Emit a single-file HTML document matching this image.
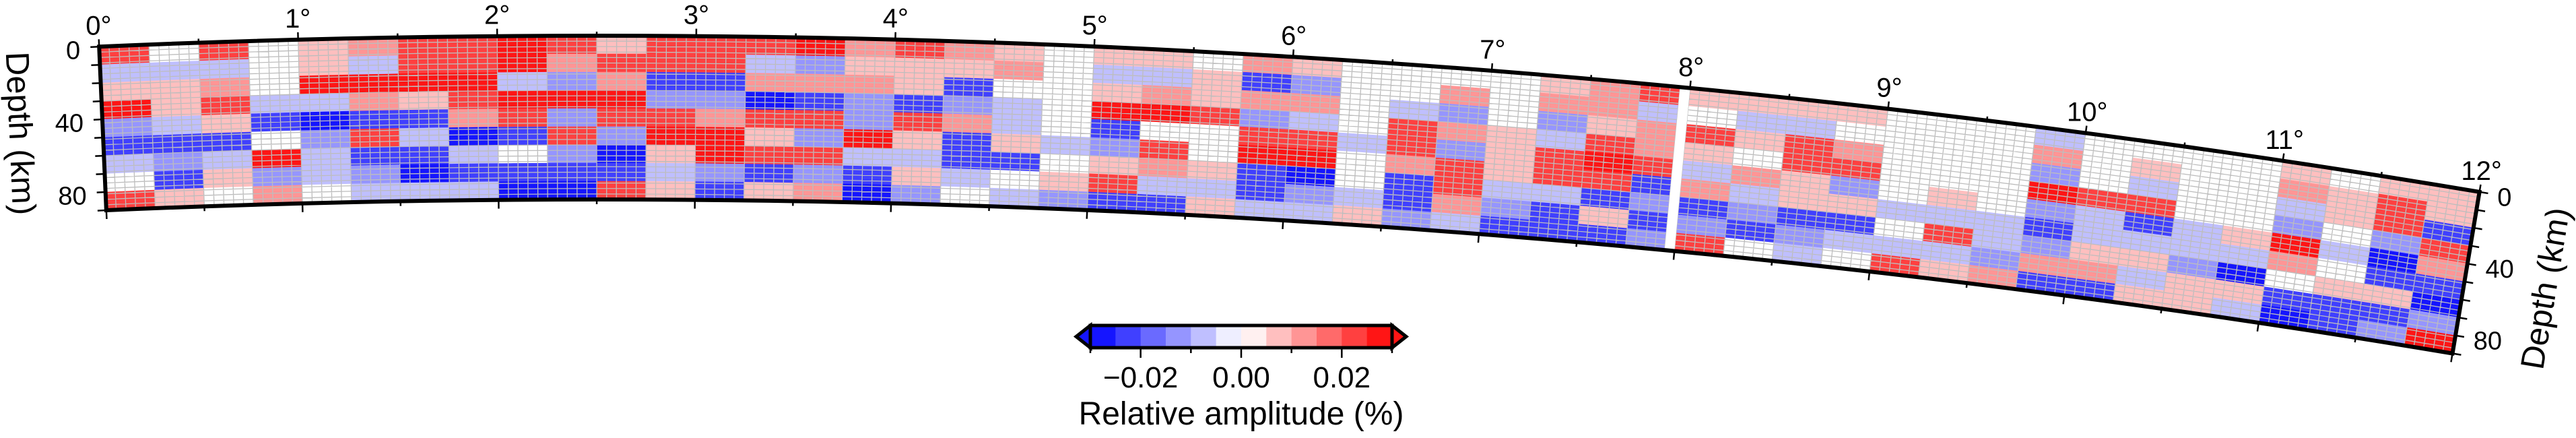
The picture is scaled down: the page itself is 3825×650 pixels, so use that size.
<!DOCTYPE html>
<html><head><meta charset="utf-8">
<style>
html,body{margin:0;padding:0;background:#fff;}
svg{display:block;font-family:"Liberation Sans",Arial,sans-serif;}
</style></head>
<body>
<svg id="chart" xmlns="http://www.w3.org/2000/svg" width="3825" height="650" viewBox="0 0 3825 650">
<g id="cells"></g>
<g id="grid"></g>
<g id="frame"></g>
<g id="axes"></g>
<text x="0" y="0" font-size="49" text-anchor="middle" dominant-baseline="central" transform="translate(30,198) rotate(87.5)">Depth (km)</text>
<text x="0" y="0" font-size="49" text-anchor="middle" dominant-baseline="central" transform="translate(3780,428) rotate(-80.5)">Depth (km)</text>
<g id="colorbar"></g>
<text x="1843" y="630" font-size="48" text-anchor="middle">Relative amplitude (%)</text>
</svg>
<script>
// ---- data: amplitude level per 0.25° column, one array per 10 km depth band ----
const lonStart = 0, lonStep = 0.25;
const depthBands = [0,10,20,30,40,50,60,70,80,90];
const levelAmp = [-0.028,-0.022,-0.014,-0.007,0,0.007,0.014,0.022,0.028]; // level -4..4 -> %
const band0_10  = [3,0,3,0,1,2,3,3,4,3,1,3,3,3,4, 2,3,2,1,0,1,1,0,2,1,0,0,0,0,1,2,3, 1,1,1,1,0,0,0,-1,0,0,0,0,1,0,1,1];
const band10_20 = [-1,-1,-1,0,1,-1,3,3,4,2,3,3,3,-1,-2, 1,1,1,2,0,-1,-1,1,-3,-2,0,0,2,0,2,2,-1, 0,-1,-1,0,0,0,0,2,0,1,0,0,2,1,3,1];
const band20_30 = [1,1,2,0,4,4,4,4,-1,-2,2,-3,-3,2,2, 2,1,-3,0,0,1,2,1,2,2,0,-1,-2,0,-2,1,2, 3,1,3,2,0,0,0,-2,0,-1,0,0,-1,1,3,-3];
const band30_40 = [4,1,3,-1,-1,2,1,3,4,4,4,-2,-2,-4,-3, -2,-3,-2,-1,0,4,4,3,-2,-1,0,3,2,1,-1,3,2, 1,0,3,3,0,0,0,4,3,3,0,0,-2,0,-2,3];
const band40_50 = [-2,-1,1,-3,-4,-3,-3,2,3,-2,3,3,2,3,3, -2,3,2,-1,0,-3,0,0,3,3,-1,3,-2,1,3,4,3, -1,2,1,-2,0,1,0,-2,-1,-3,-1,1,4,-1,-4,2];
const band50_60 = [-3,-3,-3,0,-2,3,-1,-4,-3,3,-2,4,4,1,-2, 4,1,-3,1,-1,-2,3,0,4,4,0,2,3,1,3,3,-3, 2,-1,1,1,-1,-1,-1,-3,-1,-1,-1,-1,2,0,-3,-3];
const band60_70 = [-1,-2,-1,4,-1,-3,-3,-1,0,-2,-4,1,4,3,3, -1,-1,-3,-3,0,1,2,1,-3,-4,0,-3,3,-1,-1,-3,-2, -3,-2,-3,-3,0,3,-1,-2,1,1,-2,-4,0,1,1,-4];
const band70_80 = [0,-3,1,-2,-1,-2,-4,-3,-3,-3,-3,-1,-2,-3,-2, -3,1,-1,0,1,3,-1,-1,-3,-2,-1,-3,2,-2,-3,1,-3, -2,-3,-2,-1,-1,-1,-2,2,2,-1,1,1,-3,-3,-3,-2];
const band80_90 = [3,1,0,2,0,-1,-1,-1,-4,-4,3,1,-3,1,2, -4,-2,0,-1,-2,-3,-3,1,-1,-1,1,-2,-1,-3,-3,-3,-2, 3,0,-1,0,3,1,2,-3,-3,1,1,-1,-4,-3,-2,4];
const bands = [band0_10,band10_20,band20_30,band30_40,band40_50,band50_60,band60_70,band70_80,band80_90];
const noDataLon = [7.95, 8.0];
const lonTicks = [0,1,2,3,4,5,6,7,8,9,10,11,12];
const depthTickLabels = [0,40,80];
const cbarTicks = [-0.02, 0.00, 0.02];
const cbarTickLabels = ["\u22120.02","0.00","0.02"];

// ---- projection ----
const NS="http://www.w3.org/2000/svg";
const R0=16938, CX=889, CY=16991, KM=2.7, ROT=2.51, LONMAX=12, DMAX=90;
function P(th,d){const p=(th-ROT)*Math.PI/180, r=R0-d*KM; return [CX+r*Math.sin(p), CY-r*Math.cos(p)];}
function out(th){const p=(th-ROT)*Math.PI/180; return [Math.sin(p),-Math.cos(p)];}
function side(th){const p=(th-ROT)*Math.PI/180; return [Math.cos(p),Math.sin(p)];}
function mk(tag,attrs,parent){const e=document.createElementNS(NS,tag);for(const k in attrs)e.setAttribute(k,attrs[k]);parent.appendChild(e);return e;}
function color(v){
  if(v===0) return "#ffffff";
  let i=Math.floor(v/0.005); i=Math.max(-6,Math.min(5,i));
  const mid=(i+0.5)*0.005, c=Math.round(255*(1-Math.abs(mid)/0.03));
  return mid<0?`rgb(${c},${c},255)`:`rgb(255,${c},${c})`;
}
function amp(lv){const k=Math.max(-4,Math.min(4,Math.round(lv)));return levelAmp[k+4];}
function poly(t0,t1,d0,d1){
  const pts=[],n=4;
  for(let k=0;k<=n;k++)pts.push(P(t0+(t1-t0)*k/n,d0));
  for(let k=n;k>=0;k--)pts.push(P(t0+(t1-t0)*k/n,d1));
  return pts.map(p=>p[0].toFixed(1)+","+p[1].toFixed(1)).join(" ");
}

// ---- cells ----
const gC=document.getElementById("cells");
bands.forEach((row,ri)=>{
  row.forEach((lv,ci)=>{
    const t0=lonStart+ci*lonStep, t1=t0+lonStep;
    const c=color(amp(lv));
    const el=mk("polygon",{points:poly(t0,t1,depthBands[ri],depthBands[ri+1]),fill:c,stroke:c,"stroke-width":"0.6"},gC);
    
    
  });
});

// ---- fine grid overlay ----
const gG=document.getElementById("grid");
let gd="";
for(let k=0;k<=240;k++){const t=k*0.05,a=P(t,0),b=P(t,DMAX);gd+=`M${a[0].toFixed(1)},${a[1].toFixed(1)}L${b[0].toFixed(1)},${b[1].toFixed(1)}`;}
for(let d=0;d<=DMAX;d+=3){const a=P(0,d),b=P(LONMAX,d),r=R0-d*KM;gd+=`M${a[0].toFixed(1)},${a[1].toFixed(1)}A${r},${r} 0 0 1 ${b[0].toFixed(1)},${b[1].toFixed(1)}`;}
const gl=mk("path",{d:gd,fill:"none",stroke:"#bdbdbd","stroke-width":"1.3"},gG);


const gap=mk("polygon",{points:poly(noDataLon[0],noDataLon[1],0,DMAX),fill:"#fff"},gG);



// ---- frame ----
const gF=document.getElementById("frame");
{
  const a=P(0,0),b=P(LONMAX,0),c=P(LONMAX,DMAX),d=P(0,DMAX),r0=R0,r1=R0-DMAX*KM;
  const fr=mk("path",{d:`M${a}A${r0},${r0} 0 0 1 ${b}L${c}A${r1},${r1} 0 0 0 ${d}Z`,fill:"none",stroke:"#000","stroke-width":"6","stroke-linejoin":"miter"},gF);
  
  
}

// ---- axes ----
const gA=document.getElementById("axes");
let td="";
for(let k=0;k<=24;k++){
  const t=k*0.5, maj=(k%2===0), o=out(t);
  const Lt=maj?11:6, Lb=maj?13:7;
  const a=P(t,0), b=P(t,DMAX);
  td+=`M${a[0]},${a[1]}L${a[0]+o[0]*Lt},${a[1]+o[1]*Lt}`;
  td+=`M${b[0]},${b[1]}L${b[0]-o[0]*Lb},${b[1]-o[1]*Lb}`;
}
for(let d=0;d<=DMAX;d+=10){
  const L=13, a=P(0,d), b=P(LONMAX,d), s0=side(0), s1=side(LONMAX);
  td+=`M${a[0]},${a[1]}L${a[0]-s0[0]*L},${a[1]-s0[1]*L}`;
  td+=`M${b[0]},${b[1]}L${b[0]+s1[0]*L},${b[1]+s1[1]*L}`;
}
const tk=mk("path",{d:td,stroke:"#000","stroke-width":"2.5",fill:"none"},gA);


lonTicks.forEach(t=>{
  const a=P(t,0),o=out(t);
  const tx=mk("text",{x:(a[0]+o[0]*18).toFixed(1),y:(a[1]+o[1]*18).toFixed(1),"font-size":"40","text-anchor":"middle"},gA);
  tx.textContent=t+"\u00b0";
  
  
});
depthTickLabels.forEach(d=>{
  const a=P(0,d),s=side(0);
  const l=mk("text",{x:(a[0]-s[0]*28).toFixed(1),y:(a[1]-s[1]*28+5).toFixed(1),"font-size":"38","text-anchor":"end","dominant-baseline":"central"},gA);
  l.textContent=d;
  
  
  const b=P(LONMAX,d),s1=side(LONMAX);
  const r=mk("text",{x:(b[0]+s1[0]*27).toFixed(1),y:(b[1]+s1[1]*27+4).toFixed(1),"font-size":"38","text-anchor":"start","dominant-baseline":"central"},gA);
  r.textContent=d;
  
  
});

// ---- colorbar ----
const gB=document.getElementById("colorbar");
const BX0=1619,BX1=2067,BY0=483,BY1=516,VMIN=-0.03,VMAX=0.03;
function bx(v){return BX0+(v-VMIN)/(VMAX-VMIN)*(BX1-BX0);}
for(let i=-6;i<6;i++){
  const v0=i*0.005,v1=v0+0.005;
  let c=color((i+0.5)*0.005);
  if(i===-1)c="#eeeeff"; if(i===0)c="#fff0f0";
  const s=mk("rect",{x:bx(v0).toFixed(1),y:BY0,width:(bx(v1)-bx(v0)+0.5).toFixed(1),height:BY1-BY0,fill:c},gB);
  
  
}
const tl=mk("polygon",{points:`${BX0},${BY0} ${BX0-21},${(BY0+BY1)/2} ${BX0},${BY1}`,fill:"rgb(21,21,255)",stroke:"#000","stroke-width":"5","stroke-linejoin":"miter"},gB);


const tr=mk("polygon",{points:`${BX1},${BY0} ${BX1+21},${(BY0+BY1)/2} ${BX1},${BY1}`,fill:"rgb(255,21,21)",stroke:"#000","stroke-width":"5","stroke-linejoin":"miter"},gB);


const bf=mk("rect",{x:BX0,y:BY0,width:BX1-BX0,height:BY1-BY0,fill:"none",stroke:"#000","stroke-width":"5"},gB);


let cd="";
for(let k=0;k<=6;k++){const v=VMIN+k*0.01,x=bx(v),maj=(k%2===1);cd+=`M${x},${BY1}L${x},${BY1+(maj?15:8)}`;}
const ct=mk("path",{d:cd,stroke:"#000","stroke-width":"2.5"},gB);


cbarTicks.forEach((v,i)=>{
  const t=mk("text",{x:bx(v).toFixed(1),y:575,"font-size":"44","text-anchor":"middle"},gB);
  t.textContent=cbarTickLabels[i];
  
  
});
</script>
</body></html>
